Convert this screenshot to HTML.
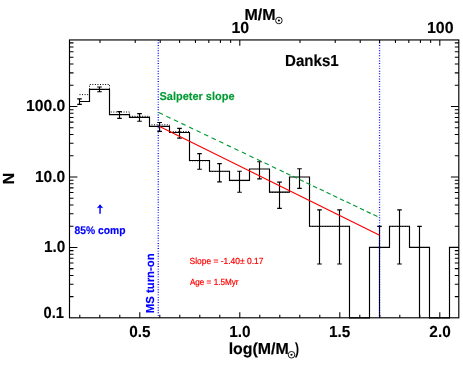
<!DOCTYPE html>
<html><head><meta charset="utf-8"><title>Danks1 IMF</title>
<style>html,body{margin:0;padding:0;background:#fff;}body{width:463px;height:370px;overflow:hidden;}svg{display:block;will-change:transform;filter:opacity(1);}text{font-family:"Liberation Sans",sans-serif;text-rendering:geometricPrecision;}</style>
</head><body>
<svg width="463" height="370" viewBox="0 0 463 370">
<rect x="0" y="0" width="463" height="370" fill="#ffffff"/>
<line x1="158.25" y1="39.95" x2="158.25" y2="317.8" stroke="#0000ff" stroke-width="1.3" stroke-dasharray="0.9 1.67"/>
<line x1="379.55" y1="39.95" x2="379.55" y2="317.8" stroke="#0000ff" stroke-width="1.3" stroke-dasharray="0.9 1.67"/>
<rect x="69.5" y="39.95" width="389.30" height="277.85" fill="none" stroke="#000" stroke-width="1.15"/>
<path d="M79.80 317.8v-3.0 M99.80 317.8v-3.0 M119.80 317.8v-3.0 M139.80 317.8v-5.6 M159.80 317.8v-3.0 M179.80 317.8v-3.0 M199.80 317.8v-3.0 M219.80 317.8v-3.0 M239.80 317.8v-5.6 M259.80 317.8v-3.0 M279.80 317.8v-3.0 M299.80 317.8v-3.0 M319.80 317.8v-3.0 M339.80 317.8v-5.6 M359.80 317.8v-3.0 M379.80 317.8v-3.0 M399.80 317.8v-3.0 M419.80 317.8v-3.0 M439.80 317.8v-5.6 M100.01 39.95v3.0 M135.22 39.95v3.0 M160.21 39.95v3.0 M179.59 39.95v3.0 M195.43 39.95v3.0 M208.82 39.95v3.0 M220.42 39.95v3.0 M230.65 39.95v3.0 M239.80 39.95v5.8 M300.01 39.95v3.0 M335.22 39.95v3.0 M360.21 39.95v3.0 M379.59 39.95v3.0 M395.43 39.95v3.0 M408.82 39.95v3.0 M420.42 39.95v3.0 M430.65 39.95v3.0 M439.80 39.95v5.8 M69.5 296.64h4.0 M458.8 296.64h-4.0 M69.5 284.24h4.0 M458.8 284.24h-4.0 M69.5 275.43h4.0 M458.8 275.43h-4.0 M69.5 268.61h4.0 M458.8 268.61h-4.0 M69.5 263.03h4.0 M458.8 263.03h-4.0 M69.5 258.31h4.0 M458.8 258.31h-4.0 M69.5 254.23h4.0 M458.8 254.23h-4.0 M69.5 250.62h4.0 M458.8 250.62h-4.0 M69.5 247.40h7.9 M458.8 247.40h-7.9 M69.5 226.19h4.0 M458.8 226.19h-4.0 M69.5 213.79h4.0 M458.8 213.79h-4.0 M69.5 204.98h4.0 M458.8 204.98h-4.0 M69.5 198.16h4.0 M458.8 198.16h-4.0 M69.5 192.58h4.0 M458.8 192.58h-4.0 M69.5 187.86h4.0 M458.8 187.86h-4.0 M69.5 183.78h4.0 M458.8 183.78h-4.0 M69.5 180.17h4.0 M458.8 180.17h-4.0 M69.5 176.95h7.9 M458.8 176.95h-7.9 M69.5 155.74h4.0 M458.8 155.74h-4.0 M69.5 143.34h4.0 M458.8 143.34h-4.0 M69.5 134.53h4.0 M458.8 134.53h-4.0 M69.5 127.71h4.0 M458.8 127.71h-4.0 M69.5 122.13h4.0 M458.8 122.13h-4.0 M69.5 117.41h4.0 M458.8 117.41h-4.0 M69.5 113.33h4.0 M458.8 113.33h-4.0 M69.5 109.72h4.0 M458.8 109.72h-4.0 M69.5 106.50h7.9 M458.8 106.50h-7.9 M69.5 85.29h4.0 M458.8 85.29h-4.0 M69.5 72.89h4.0 M458.8 72.89h-4.0 M69.5 64.08h4.0 M458.8 64.08h-4.0 M69.5 57.26h4.0 M458.8 57.26h-4.0 M69.5 51.68h4.0 M458.8 51.68h-4.0 M69.5 46.96h4.0 M458.8 46.96h-4.0 M69.5 42.88h4.0 M458.8 42.88h-4.0" fill="none" stroke="#000" stroke-width="1.05"/>
<path d="M79.5 101.5 H89.5 V89.4 H109.5 V114.6 H129.5 V117.3 H149.5 V126.4 H169.5 V132.5 H189.5 V160.5 H209.5 V171.2 H229.5 V180.3 H249.5 V169.0 H269.5 V192.1 H289.5 V177.0 H309.5 V226.2 H329.5 V226.2 H349.5 V317.8 H369.5 V247.4 H389.5 V226.2 H409.5 V247.4 H429.5 V317.8 H449.5 V247.4 H458.8" fill="none" stroke="#000" stroke-width="1.15" stroke-linejoin="miter"/>
<path d="M79.5 94.6 H89.5 V84.5 H109.5 V112.0 H129.5 V116.3 H149.5 V124.8 H169.5 V131.6 H189.5 M189.5 160.8h20 M209.5 171.5h20 M229.5 180.60000000000002h20 M269.5 192.4h20 M309.5 226.5h20 M329.5 226.5h20 M389.5 226.5h20" fill="none" stroke="#000" stroke-width="1.0" stroke-dasharray="1 1.55"/>
<path d="M79.5 98.9V104.3M77.2 98.9h4.6M77.2 104.3h4.6 M99.5 87.0V91.7M97.2 87.0h4.6M97.2 91.7h4.6 M119.5 111.6V118.3M117.2 111.6h4.6M117.2 118.3h4.6 M139.5 113.6V121.2M137.2 113.6h4.6M137.2 121.2h4.6 M159.6 122.5V131.3M157.29999999999998 122.5h4.6M157.29999999999998 131.3h4.6 M179.5 128.4V138.1M177.2 128.4h4.6M177.2 138.1h4.6 M199.5 153.6V169.2M197.2 153.6h4.6M197.2 169.2h4.6 M219.5 163.6V181.8M217.2 163.6h4.6M217.2 181.8h4.6 M239.5 171.2V192.2M237.2 171.2h4.6M237.2 192.2h4.6 M259.5 161.7V178.8M257.2 161.7h4.6M257.2 178.8h4.6 M279.5 182.1V208.4M277.2 182.1h4.6M277.2 208.4h4.6 M299.5 168.7V188.3M297.2 168.7h4.6M297.2 188.3h4.6 M319.5 209.9V264.0M317.2 209.9h4.6M317.2 264.0h4.6 M339.5 209.9V264.0M337.2 209.9h4.6M337.2 264.0h4.6 M379.5 226.3V317.8M377.2 226.3h4.6 M399.5 209.8V264.0M397.2 209.8h4.6M397.2 264.0h4.6 M419.5 226.3V317.8M417.2 226.3h4.6" fill="none" stroke="#000" stroke-width="1.15"/>
<line x1="379.5" y1="226.3" x2="379.5" y2="317.8" stroke="#0000ff" stroke-width="0.9" stroke-dasharray="0.9 1.67" opacity="0.8"/>
<path d="M158.80 112.60L162.95 114.57 M166.35 116.19L170.50 118.16 M173.90 119.78L178.05 121.75 M181.45 123.37L185.60 125.34 M189.00 126.96L193.15 128.93 M196.55 130.55L200.70 132.52 M204.10 134.14L208.25 136.11 M211.65 137.73L215.80 139.70 M219.20 141.32L223.35 143.29 M226.75 144.91L230.90 146.88 M234.30 148.50L238.45 150.47 M241.85 152.09L246.00 154.06 M249.40 155.68L253.55 157.65 M256.95 159.27L261.10 161.24 M264.50 162.86L268.65 164.83 M272.05 166.45L276.20 168.42 M279.60 170.04L283.75 172.01 M286.20 173.18L290.35 175.15 M292.90 176.36L297.05 178.34 M299.60 179.55L303.75 181.52 M306.30 182.74L310.45 184.71 M313.00 185.92L317.15 187.90 M319.70 189.11L323.85 191.08 M326.40 192.29L330.55 194.27 M333.10 195.48L337.25 197.45 M339.80 198.67L343.95 200.64 M346.50 201.85L350.65 203.82 M353.20 205.04L357.35 207.01 M359.90 208.22L364.05 210.20 M366.60 211.41L370.75 213.38 M373.30 214.59L377.45 216.57" fill="none" stroke="#009933" stroke-width="1.12"/>
<line x1="159.6" y1="126.6" x2="379.6" y2="235.3" stroke="#ff0000" stroke-width="1.15"/>
<text transform="translate(25.91,111.3) scale(0.9837,1)" font-size="16" font-weight="bold" fill="#000" stroke="#000" stroke-width="0.1">100.0</text>
<text transform="translate(34.92,181.8) scale(0.9754,1)" font-size="16" font-weight="bold" fill="#000" stroke="#000" stroke-width="0.1">10.0</text>
<text transform="translate(43.93,252.4) scale(0.9598,1)" font-size="16" font-weight="bold" fill="#000" stroke="#000" stroke-width="0.1">1.0</text>
<text transform="translate(43.62,317.6) scale(0.9166,1)" font-size="16" font-weight="bold" fill="#000" stroke="#000" stroke-width="0.1">0.1</text>
<text transform="translate(129.23,337.15) scale(0.9600,1)" font-size="16" font-weight="bold" fill="#000" stroke="#000" stroke-width="0.1">0.5</text>
<text transform="translate(229.16,337.15) scale(0.9600,1)" font-size="16" font-weight="bold" fill="#000" stroke="#000" stroke-width="0.1">1.0</text>
<text transform="translate(329.05,337.15) scale(0.9600,1)" font-size="16" font-weight="bold" fill="#000" stroke="#000" stroke-width="0.1">1.5</text>
<text transform="translate(429.37,337.15) scale(0.9600,1)" font-size="16" font-weight="bold" fill="#000" stroke="#000" stroke-width="0.1">2.0</text>
<text transform="translate(231.40,32.95) scale(0.9949,1)" font-size="16" font-weight="bold" fill="#000" stroke="#000" stroke-width="0.1">10</text>
<text transform="translate(427.00,32.95) scale(0.9948,1)" font-size="16" font-weight="bold" fill="#000" stroke="#000" stroke-width="0.1">100</text>
<text transform="translate(244.53,20.15) scale(0.9979,1)" font-size="16" font-weight="bold" fill="#000" stroke="#000" stroke-width="0.18">M/M</text>
<circle cx="278.9" cy="20.5" r="3.3" fill="none" stroke="#000" stroke-width="0.9"/><circle cx="278.9" cy="20.5" r="1.1" fill="#000"/>
<text transform="translate(228.69,354.4) scale(0.9943,1)" font-size="16" font-weight="bold" fill="#000" stroke="#000" stroke-width="0.18">log(M/M</text>
<circle cx="291.5" cy="354.75" r="3.3" fill="none" stroke="#000" stroke-width="0.9"/><circle cx="291.5" cy="354.75" r="1.1" fill="#000"/>
<text transform="translate(294.99,354.4) scale(0.7529,1)" font-size="16" font-weight="bold" fill="#000" stroke="#000" stroke-width="0.1">)</text>
<text transform="translate(14.0,184.30) rotate(-90) scale(0.9834,1)" font-size="16" font-weight="bold" fill="#000" stroke="#000" stroke-width="0.18">N</text>
<text transform="translate(285.09,65.5) scale(0.9421,1)" font-size="16" font-weight="bold" fill="#000" stroke="#000" stroke-width="0.15">Danks1</text>
<text transform="translate(159.48,100.1) scale(0.9721,1)" font-size="11.3" font-weight="bold" fill="#009933" stroke="#009933" stroke-width="0.15">Salpeter slope</text>
<text transform="translate(74.57,233.9) scale(0.9355,1)" font-size="11.0" font-weight="bold" fill="#0000ff" stroke="#0000ff" stroke-width="0.15">85% comp</text>
<path d="M100.05 213.8V206.8" stroke="#0000ff" stroke-width="1.45" fill="none"/><path d="M100.05 204.3L103.2 208.3L100.05 207.5L96.9 208.3Z" fill="#0000ff"/>
<text transform="translate(154.3,313.16) rotate(-90) scale(0.9764,1)" font-size="11.6" font-weight="bold" fill="#0000ff" stroke="#0000ff" stroke-width="0.15">MS turn-on</text>
<text transform="translate(189.52,263.8) scale(0.9517,1)" font-size="8.9" fill="#ff0000" stroke="#ff0000" stroke-width="0.2">Slope = -1.40± 0.17</text>
<text transform="translate(189.88,285.3) scale(0.9168,1)" font-size="8.9" fill="#ff0000" stroke="#ff0000" stroke-width="0.2">Age = 1.5Myr</text>
</svg></body></html>
